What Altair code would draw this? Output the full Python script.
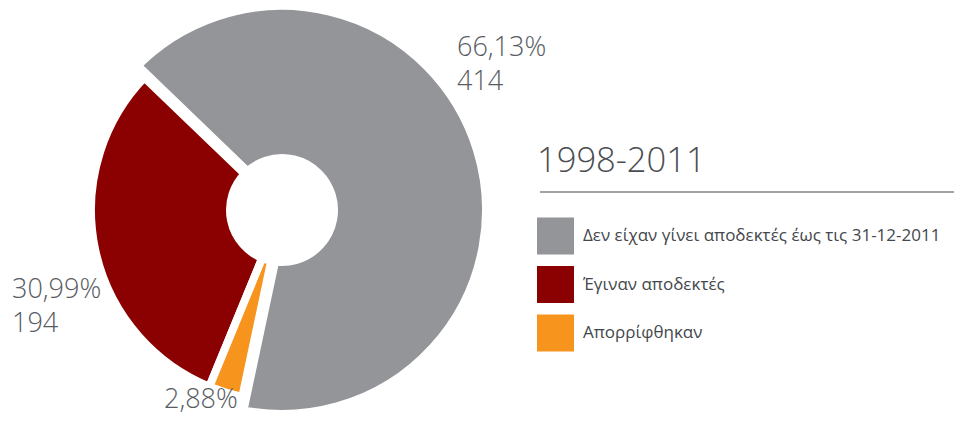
import math
import altair as alt
import pandas as pd

# ---- data ----
categories = [
    "Δεν είχαν γίνει αποδεκτές έως τις 31-12-2011",
    "Έγιναν αποδεκτές",
    "Απορρίφθηκαν",
]
counts = [414, 194, 18]
percents = [66.13, 30.99, 2.88]
colors = ["#939598", "#8b0000", "#f7941d"]
legend_title = "1998-2011"

df = pd.DataFrame({
    "cat": categories,
    "count": counts,
    "pct": percents,
    "rank": list(range(len(categories))),
})

FONT = "Open Sans"
TEXT_COLOR = "#585c62"

start = math.radians(192) + 2 * math.pi
end = math.radians(192)

base = alt.Chart(df)

theta = alt.Theta("count:Q", stack=True, scale=alt.Scale(range=[start, end]))
color = alt.Color(
    "cat:N",
    scale=alt.Scale(domain=categories, range=colors),
    sort=categories,
    legend=alt.Legend(
        title=legend_title,
        orient="none",
        legendX=529,
        legendY=137,
        titleFont=FONT,
        titleFontSize=34.5,
        titleFontWeight=300,
        titleColor="#4a4d52",
        titlePadding=38,
        titleLimit=0,
        labelFont=FONT,
        labelFontSize=17,
        labelFontWeight=400,
        labelColor="#44474c",
        labelLimit=600,
        labelOffset=9,
        symbolType="square",
        symbolSize=1369,
        symbolStrokeWidth=0,
        symbolOpacity=1,
        rowPadding=11.5,
    ),
)
order = alt.Order("rank:Q")
cx = alt.value(274)
cy = alt.value(202)

gray_arc = base.mark_arc(
    innerRadius=48, outerRadius=208, stroke="white", strokeWidth=16, strokeJoin="bevel"
).encode(
    theta=theta, color=color, order=order, x=cx, y=cy,
    opacity=alt.condition(alt.datum.cat == categories[0], alt.value(1), alt.value(0)),
)

rest_arc = base.mark_arc(
    innerRadius=52, outerRadius=191, stroke="white", strokeWidth=8, strokeJoin="bevel"
).encode(
    theta=theta, color=color, order=order, x=cx, y=cy,
    opacity=alt.condition(alt.datum.cat != categories[0], alt.value(1), alt.value(0)),
)

pct_expr = "replace(format(datum.pct, '.2f'), '.', ',') + '%'"

def label_layer(cat, x, y, with_count=True):
    expr = pct_expr + (" + '\\n' + datum.count" if with_count else "")
    return base.transform_filter(alt.datum.cat == cat).transform_calculate(
        label=expr
    ).mark_text(
        align="left", baseline="alphabetic", font=FONT, fontSize=27,
        fontWeight=300, color=TEXT_COLOR, lineBreak="\n", lineHeight=34,
    ).encode(text="label:N", x=alt.value(x), y=alt.value(y))

lbl_gray = label_layer(categories[0], 449, 48)
lbl_red = label_layer(categories[1], 4, 290)
lbl_orange = label_layer(categories[2], 156, 400, with_count=False)

rule = base.transform_filter(alt.datum.rank == 0).mark_rule(
    color="#a3a3a3", strokeWidth=2
).encode(x=alt.value(532), x2=alt.value(946), y=alt.value(184))

chart = alt.layer(gray_arc, rest_arc, lbl_gray, lbl_red, lbl_orange, rule).properties(
    width=946, height=407, padding=0,
    autosize=alt.AutoSizeParams(type="none"),
).configure_view(stroke=None)

chart.save("out.html", embed_options={"renderer": "svg", "actions": False})
